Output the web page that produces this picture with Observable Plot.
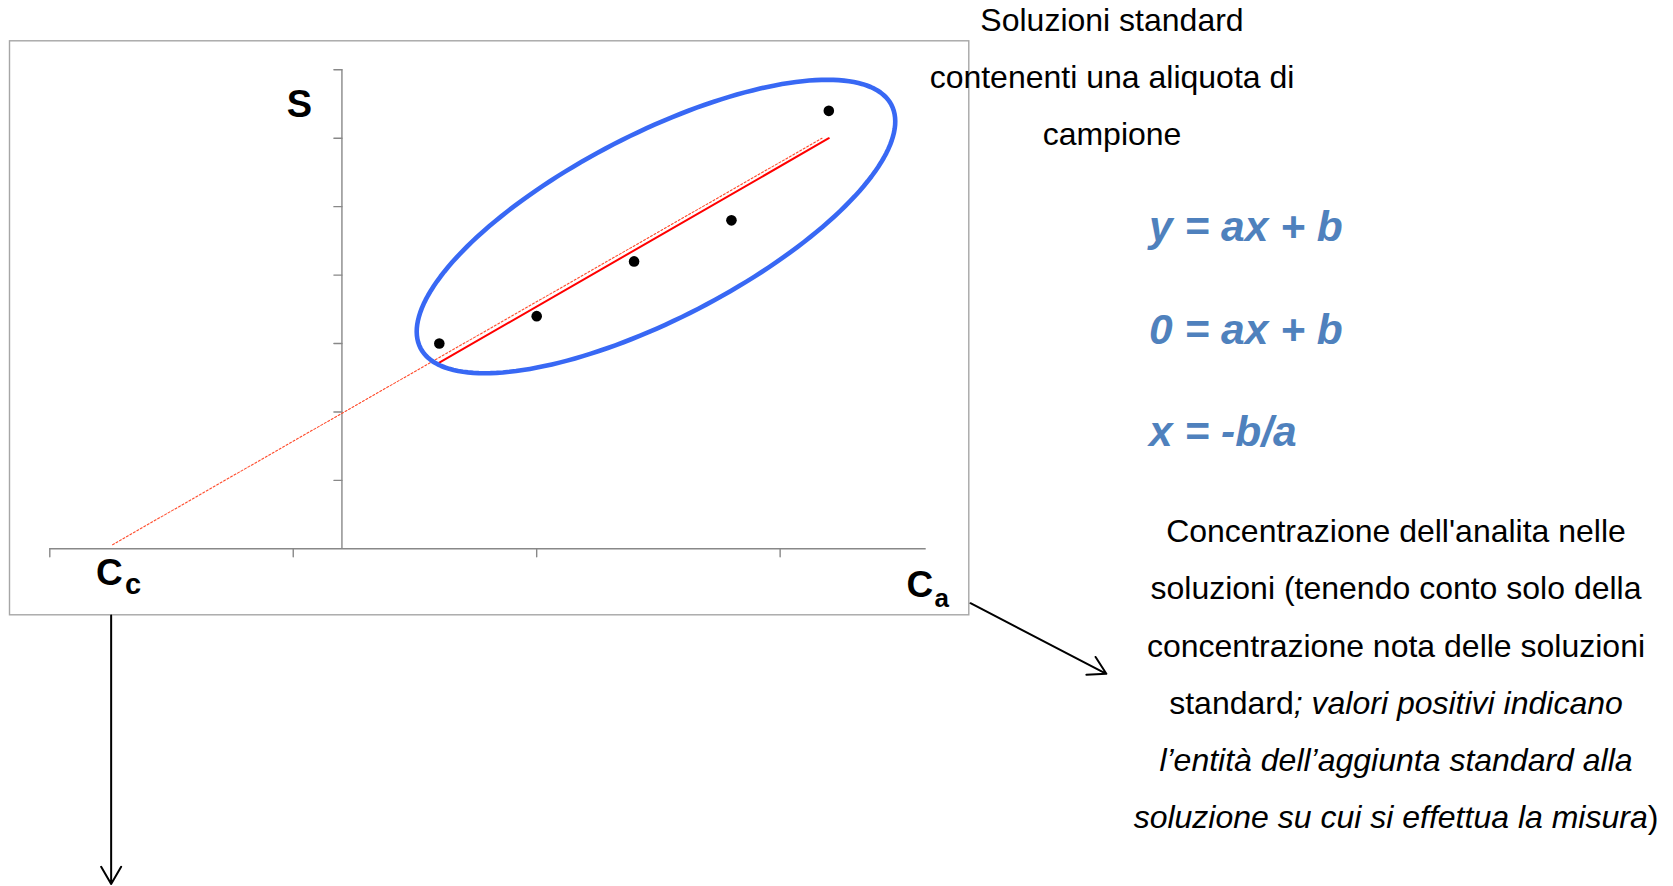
<!DOCTYPE html>
<html>
<head>
<meta charset="utf-8">
<script src="https://cdn.jsdelivr.net/npm/d3@7"></script>
<script src="https://cdn.jsdelivr.net/npm/@observablehq/plot@0.6"></script>
<style>
html, body { margin: 0; padding: 0; background: #fff; }
#wrap { position: relative; width: 1673px; height: 886px; overflow: hidden; font-family: "Liberation Sans", Arial, sans-serif; }
#chart { position: absolute; left: 0; top: 0; }
.note { position: absolute; white-space: nowrap; color: #000; font-size: 32px; text-align: center; }
#eq { position: absolute; white-space: nowrap; color: #4F81BD; font-size: 42.5px; font-weight: bold; font-style: italic; }
</style>
</head>
<body>
<div id="wrap">
  <div id="chart"></div>
  <div class="note" style="left:912px; width:400px; top:-8px; line-height:57px;">Soluzioni standard<br>contenenti una aliquota di<br>campione</div>
  <div id="eq" style="left:1149px; top:176px; line-height:102.5px;">y = ax + b<br>0 = ax + b<br>x = -b/a</div>
  <div class="note" style="left:1116px; width:560px; top:503.4px; line-height:57.1px;">Concentrazione dell'analita nelle<br>soluzioni (tenendo conto solo della<br>concentrazione nota delle soluzioni<br>standard<i>; valori positivi indicano</i><br><i>l’entità dell’aggiunta standard alla</i><br><i>soluzione su cui si effettua la misura</i>)</div>
</div>
<script>
// ---- data ----
const xValues = [2, 4, 6, 8, 10];          // concentrazione aggiunta (C_a)
const sValues = [3.0, 3.4, 4.2, 4.8, 6.4]; // segnale S
const extrapX = [-4.71, 9.86];             // retta estrapolata (tratteggiata)
const extrapS = [0.06, 6.0];
const xTicks = [-6, -1, 4, 9];
const yTicks = [1, 2, 3, 4, 5, 6, 7];
const xDomain = [-6, 12];
const yDomain = [0, 7];
const ccValue = -4.71;                     // intercetta C_c

// ---- layout ----
const W = 1673, H = 886;
const mL = 49.3, mR = W - 925.7, mT = 69.3, mB = H - 548.3;
const kx = (W - mL - mR) / (xDomain[1] - xDomain[0]);
const ky = (H - mT - mB) / (yDomain[1] - yDomain[0]);

const points = xValues.map((x, i) => ({x, s: sValues[i]}));
const extrap = extrapX.map((x, i) => ({x, s: extrapS[i]}));

// ellipse annotation (center in data units, semi-axes in px, angle in degrees)
const ell = {cx: 6.45, cy: 4.71, a: 265, b: 92.5, angle: 27.3};
const th = ell.angle * Math.PI / 180;
const ellPts = d3.range(0, 360, 2).map(t => {
  const r = t * Math.PI / 180;
  const dx = ell.a * Math.cos(r) * Math.cos(th) - ell.b * Math.sin(r) * Math.sin(th);
  const dy = ell.a * Math.cos(r) * Math.sin(th) + ell.b * Math.sin(r) * Math.cos(th);
  return {x: ell.cx + dx / kx, s: ell.cy + dy / ky};
});

// arrows (annotation, data units)
const arrows = [
  {x1: -4.74, y1: -0.975, x2: -4.74, y2: -4.90},
  {x1: 12.91, y1: -0.795, x2: 15.70, y2: -1.827}
];

const tickShape = {draw(context, l) { context.moveTo(0, 0); context.lineTo(0, -l); }};
const axisColor = "#888888";

const chart = Plot.plot({
  width: W, height: H,
  marginLeft: mL, marginRight: mR, marginTop: mT, marginBottom: mB,
  style: {fontFamily: "'Liberation Sans', Arial, sans-serif", background: "transparent", overflow: "visible"},
  x: {domain: xDomain, axis: null},
  y: {domain: yDomain, axis: null},
  marks: [
    Plot.frame({stroke: "#a6a6a6", strokeWidth: 1.4, fill: "none",
      insetLeft: -(mL - 9), insetTop: -(mT - 40.3), insetRight: -(968.3 - 925.7), insetBottom: -(614.3 - 548.3)}),
    Plot.ruleY([0], {stroke: axisColor, strokeWidth: 1.4}),
    Plot.ruleX([0], {y1: 0, y2: 7, stroke: axisColor, strokeWidth: 1.4}),
    Plot.vector(yTicks, {x: () => 0, y: d => d, length: 8, rotate: -90, anchor: "start", shape: tickShape, stroke: axisColor, strokeWidth: 1.4}),
    Plot.vector(xTicks, {x: d => d, y: () => 0, length: 8, rotate: 180, anchor: "start", shape: tickShape, stroke: axisColor, strokeWidth: 1.4}),
    Plot.line(extrap, {x: "x", y: "s", stroke: "#ff4a2a", strokeWidth: 1.1, strokeDasharray: "2,2"}),
    Plot.linearRegressionY(points, {x: "x", y: "s", stroke: "#ff0000", strokeWidth: 2, ci: 0}),
    Plot.line(ellPts, {x: "x", y: "s", curve: "linear-closed", stroke: "#3868f4", strokeWidth: 4.6}),
    Plot.dot(points, {x: "x", y: "s", r: 5.3, fill: "#000", stroke: null}),
    Plot.text(["S"], {x: () => 0, y: () => 7, text: d => d, fontSize: 38, fontWeight: "bold", textAnchor: "middle", lineAnchor: "bottom", dx: -42.4, dy: 47.4, fill: "#000"}),
    Plot.text(["C"], {x: () => ccValue, y: () => 0, text: d => d, fontSize: 37, fontWeight: "bold", textAnchor: "start", lineAnchor: "bottom", dx: -16.5, dy: 35.7, fill: "#000"}),
    Plot.text(["c"], {x: () => ccValue, y: () => 0, text: d => d, fontSize: 29, fontWeight: "bold", textAnchor: "start", lineAnchor: "bottom", dx: 12.4, dy: 45, fill: "#000"}),
    Plot.text(["C"], {x: () => xDomain[1], y: () => 0, text: d => d, fontSize: 37, fontWeight: "bold", textAnchor: "start", lineAnchor: "bottom", dx: -19.7, dy: 48.4, fill: "#000"}),
    Plot.text(["a"], {x: () => xDomain[1], y: () => 0, text: d => d, fontSize: 26, fontWeight: "bold", textAnchor: "start", lineAnchor: "bottom", dx: 8.3, dy: 57.7, fill: "#000"}),
    Plot.arrow(arrows, {x1: "x1", y1: "y1", x2: "x2", y2: "y2", stroke: "#000", strokeWidth: 2, headLength: 15, headAngle: 60})
  ]
});
document.getElementById("chart").appendChild(chart);
</script>
</body>
</html>
